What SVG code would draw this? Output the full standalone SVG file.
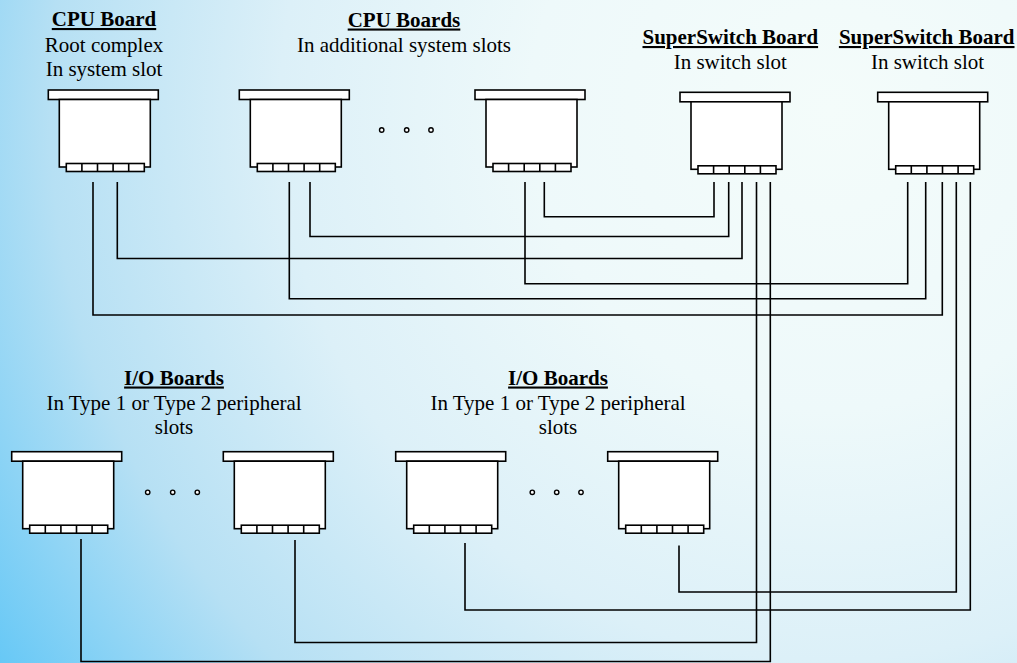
<svg xmlns="http://www.w3.org/2000/svg" xmlns:xlink="http://www.w3.org/1999/xlink" width="1017" height="663" viewBox="0 0 1017 663">
  <defs>
    <radialGradient id="bg" gradientUnits="userSpaceOnUse" cx="830" cy="110" r="1000">
      <stop offset="0" stop-color="#f4fcfa"/>
      <stop offset="0.3" stop-color="#eef9fa"/>
      <stop offset="0.55" stop-color="#dcf0f8"/>
      <stop offset="0.78" stop-color="#b6e0f4"/>
      <stop offset="1" stop-color="#66c8f6"/>
    </radialGradient>
    <!-- plug-in board: face plate, card body and edge connector with five contacts -->
    <g id="board">
      <rect x="0" y="0" width="110" height="9.5" class="part"/>
      <rect x="11" y="9.5" width="91" height="67.5" class="part"/>
      <rect x="18" y="73.5" width="78" height="8" class="part"/>
      <path d="M33.6 73.5V81.5M49.2 73.5V81.5M64.8 73.5V81.5M80.4 73.5V81.5" class="part"/>
    </g>
  </defs>
  <style>
    .part { fill: #ffffff; stroke: #000000; stroke-width: 1.6; }
    .wire { fill: none; stroke: #000000; stroke-width: 1.6; }
    .dot { fill: #ffffff; stroke: #000000; stroke-width: 1.4; }
    text { font-family: "Liberation Serif", "Times New Roman", serif; font-size: 21px; fill: #000000; text-anchor: middle; }
    .title { font-weight: bold; text-decoration: underline; }
  </style>

  <rect x="0" y="0" width="1017" height="663" fill="url(#bg)"/>

  <!-- links between board connectors -->
  <g id="connectors">
    <path class="wire" d="M93 182V315H942.3V182"/>
    <path class="wire" d="M117.3 182V258.5H742V182"/>
    <path class="wire" d="M289.3 182V298.7H925.7V182"/>
    <path class="wire" d="M310 182V236.5H728.7V182"/>
    <path class="wire" d="M525 182V283.7H907.7V182"/>
    <path class="wire" d="M544.3 182V216.7H714V182"/>
    <path class="wire" d="M81 539V661.5H770.3V182"/>
    <path class="wire" d="M295 540V642.5H756.5V182"/>
    <path class="wire" d="M465 543V610H970.3V182"/>
    <path class="wire" d="M679 545.5V592H956.3V182"/>
  </g>

  <g id="cpu-board">
    <text class="title" x="104" y="26">CPU Board</text>
    <text x="104" y="51.5">Root complex</text>
    <text x="104" y="76">In system slot</text>
    <use xlink:href="#board" href="#board" transform="translate(48.3 90)"/>
  </g>

  <g id="cpu-boards-label">
    <text class="title" x="404" y="26.5">CPU Boards</text>
    <text x="404" y="52">In additional system slots</text>
  </g>

  <g id="cpu-board-a">
    <use xlink:href="#board" href="#board" transform="translate(239.3 90)"/>
  </g>

  <g id="cpu-board-b">
    <use xlink:href="#board" href="#board" transform="translate(475 90)"/>
  </g>

  <g id="superswitch-1">
    <text class="title" x="730.3" y="44">SuperSwitch Board</text>
    <text x="730.3" y="69">In switch slot</text>
    <use xlink:href="#board" href="#board" transform="translate(680 92.3)"/>
  </g>

  <g id="superswitch-2">
    <text class="title" x="926.7" y="44">SuperSwitch Board</text>
    <text x="927.5" y="69">In switch slot</text>
    <use xlink:href="#board" href="#board" transform="translate(877.7 92.3)"/>
  </g>

  <g id="io-label-1">
    <text class="title" x="174" y="384.5">I/O Boards</text>
    <text x="174" y="410">In Type 1 or Type 2 peripheral</text>
    <text x="174" y="434">slots</text>
  </g>

  <g id="io-label-2">
    <text class="title" x="558" y="384.5">I/O Boards</text>
    <text x="558" y="410">In Type 1 or Type 2 peripheral</text>
    <text x="558" y="434">slots</text>
  </g>

  <g id="io-board-1">
    <use xlink:href="#board" href="#board" transform="translate(11.7 451.7)"/>
  </g>
  <g id="io-board-2">
    <use xlink:href="#board" href="#board" transform="translate(223.3 451.7)"/>
  </g>
  <g id="io-board-3">
    <use xlink:href="#board" href="#board" transform="translate(395.7 451.7)"/>
  </g>
  <g id="io-board-4">
    <use xlink:href="#board" href="#board" transform="translate(607.7 451.7)"/>
  </g>

  <!-- ellipsis marks between repeated boards -->
  <g id="ellipsis">
    <circle class="dot" cx="381.7" cy="130" r="2.2"/>
    <circle class="dot" cx="406.7" cy="130" r="2.2"/>
    <circle class="dot" cx="431" cy="130" r="2.2"/>
    <circle class="dot" cx="147.7" cy="492.3" r="2.2"/>
    <circle class="dot" cx="172.7" cy="492.3" r="2.2"/>
    <circle class="dot" cx="197.3" cy="492.3" r="2.2"/>
    <circle class="dot" cx="532.3" cy="492.3" r="2.2"/>
    <circle class="dot" cx="556.7" cy="492.3" r="2.2"/>
    <circle class="dot" cx="581" cy="492.3" r="2.2"/>
  </g>
</svg>
